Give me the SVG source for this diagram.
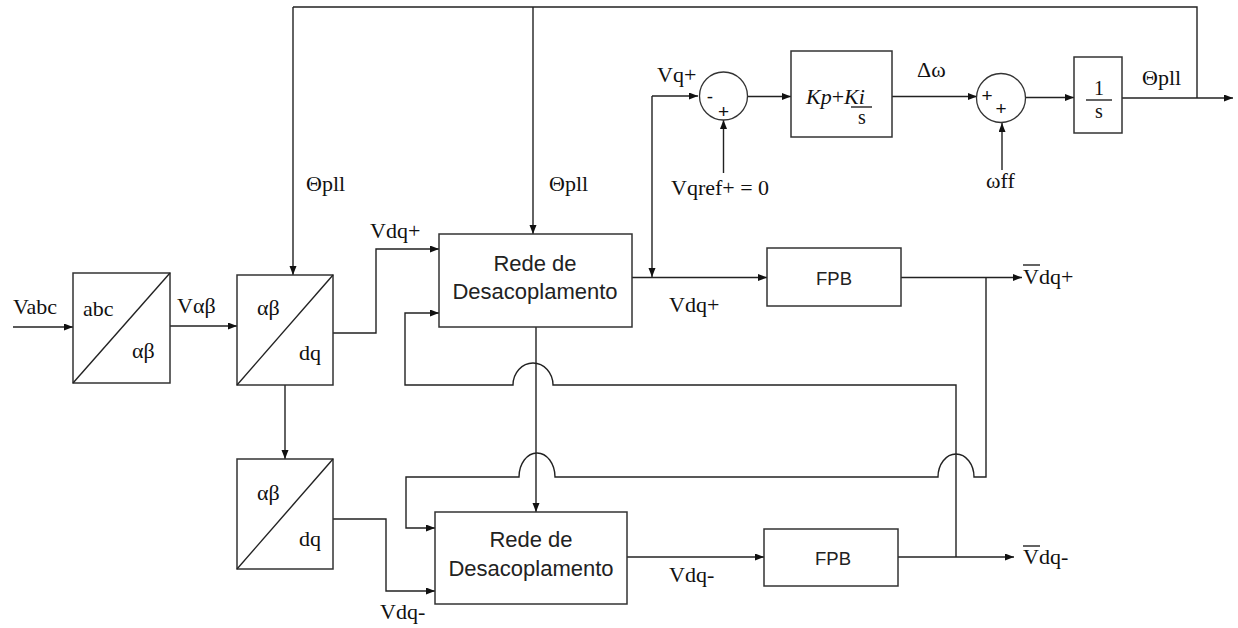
<svg xmlns="http://www.w3.org/2000/svg" width="1238" height="628" viewBox="0 0 1238 628">
<defs>
<marker id="arr" markerUnits="userSpaceOnUse" markerWidth="10" markerHeight="8" refX="9" refY="3.5" orient="auto">
<path d="M0,0 L9,3.5 L0,7 z" fill="#111"/>
</marker>
<style>
.blk{fill:#fff;stroke:#333;stroke-width:1.5}
.ln{fill:none;stroke:#222;stroke-width:1.4}
.ar{fill:none;stroke:#222;stroke-width:1.4;marker-end:url(#arr)}
.t{font-family:"Liberation Serif","Times New Roman",serif;font-size:22px;fill:#111}
.fr{font-family:"Liberation Serif","Times New Roman",serif;font-size:20px;fill:#111;text-anchor:middle}
.s{font-family:"Liberation Sans",Arial,sans-serif;font-size:22px;fill:#222;text-anchor:middle}
.f{font-family:"Liberation Sans",Arial,sans-serif;font-size:18.5px;fill:#222;text-anchor:middle}
.p{font-family:"Liberation Sans",Arial,sans-serif;font-size:19px;fill:#111;text-anchor:middle}
</style>
</defs>
<rect width="1238" height="628" fill="#fff"/>

<g id="connectors">
<line class="ar" x1="13" y1="327" x2="73" y2="327"/>
<line class="ar" x1="170" y1="326" x2="237" y2="326"/>
<polyline class="ln" points="293,7 1197,7 1197,98"/>
<line class="ar" x1="293" y1="7" x2="293" y2="275"/>
<line class="ar" x1="533" y1="7" x2="533" y2="234"/>
<polyline class="ar" points="333,333 376,333 376,249 439,249"/>
<line class="ar" x1="285" y1="385" x2="285" y2="459"/>
<polyline class="ar" points="333,519 386,519 386,591 435,591"/>
<line class="ar" x1="632" y1="277.5" x2="767" y2="277.5"/>
<line class="ar" x1="652" y1="96" x2="652" y2="277"/>
<line class="ar" x1="652" y1="96" x2="698" y2="96"/>
<line class="ar" x1="748" y1="96.5" x2="791" y2="96.5"/>
<line class="ar" x1="723.5" y1="173" x2="723.5" y2="120"/>
<line class="ar" x1="892" y1="96.5" x2="977" y2="96.5"/>
<line class="ar" x1="1002" y1="170" x2="1002" y2="123"/>
<line class="ar" x1="1026" y1="97.5" x2="1074" y2="97.5"/>
<line class="ar" x1="1122" y1="98" x2="1233" y2="98"/>
<line class="ar" x1="901" y1="277.5" x2="1022" y2="277.5"/>
<path class="ar" d="M986,277.5 V477 H974 A18 23 0 0 0 938 477 H555 A18 24 0 0 0 519 477 H406 V528 H435"/>
<path class="ar" d="M956,557 V385 H553 A20 22 0 0 0 513 385 H405 V313 H439"/>
<line class="ar" x1="536" y1="327" x2="536" y2="512"/>
<line class="ar" x1="627" y1="557" x2="764" y2="557"/>
<line class="ar" x1="898" y1="557" x2="1014" y2="557"/>
</g>

<g id="abc_ab">
<rect class="blk" x="73" y="273" width="97" height="110"/>
<line class="ln" x1="73" y1="383" x2="170" y2="273"/>
<text class="t" x="83" y="316">abc</text>
<text class="t" x="132" y="358">αβ</text>
</g>
<g id="ab_dq1">
<rect class="blk" x="237" y="275" width="96" height="110"/>
<line class="ln" x1="237" y1="385" x2="333" y2="275"/>
<text class="t" x="257" y="315">αβ</text>
<text class="t" x="299" y="360">dq</text>
</g>
<g id="ab_dq2">
<rect class="blk" x="237" y="459" width="96" height="110"/>
<line class="ln" x1="237" y1="569" x2="333" y2="459"/>
<text class="t" x="257" y="500">αβ</text>
<text class="t" x="299" y="546">dq</text>
</g>
<g id="rede1">
<rect class="blk" x="439" y="234" width="193" height="93"/>
<text class="s" x="535" y="271">Rede de</text>
<text class="s" x="535" y="299">Desacoplamento</text>
</g>
<g id="rede2">
<rect class="blk" x="435" y="512" width="192" height="92"/>
<text class="s" x="531" y="547">Rede de</text>
<text class="s" x="531" y="576">Desacoplamento</text>
</g>
<g id="fpb1">
<rect class="blk" x="767" y="248" width="134" height="58"/>
<text class="f" x="834" y="285">FPB</text>
</g>
<g id="fpb2">
<rect class="blk" x="764" y="529" width="134" height="57"/>
<text class="f" x="833" y="565">FPB</text>
</g>
<g id="sum1">
<circle cx="723.5" cy="96" r="24" fill="#fff" stroke="#333" stroke-width="1.3"/>
<text class="p" x="710" y="103">-</text>
<text class="p" x="723.5" y="118">+</text>
</g>
<g id="pi">
<rect class="blk" x="791" y="51" width="101" height="86"/>
<text class="t" x="806" y="104"><tspan font-style="italic">Kp</tspan>+<tspan font-style="italic">Ki</tspan></text>
<line class="ln" x1="851" y1="107" x2="872" y2="107"/>
<text class="fr" x="862" y="124">s</text>
</g>
<g id="sum2">
<circle cx="1001" cy="98" r="24.5" fill="#fff" stroke="#333" stroke-width="1.3"/>
<text class="p" x="987" y="102">+</text>
<text class="p" x="1001" y="115">+</text>
</g>
<g id="integ">
<rect class="blk" x="1074" y="57" width="48" height="76"/>
<text class="fr" x="1099" y="95">1</text>
<line class="ln" x1="1086" y1="100" x2="1112" y2="100"/>
<text class="fr" x="1099" y="118">s</text>
</g>

<g id="labels">
<text class="t" x="13" y="314">Vabc</text>
<text class="t" x="177" y="313">Vαβ</text>
<text class="t" x="306" y="191">Θpll</text>
<text class="t" x="549" y="191">Θpll</text>
<text class="t" x="370" y="238">Vdq+</text>
<text class="t" x="380" y="619">Vdq-</text>
<text class="t" x="669" y="312">Vdq+</text>
<text class="t" x="669" y="582">Vdq-</text>
<text class="t" x="657" y="82">Vq+</text>
<text class="t" x="671" y="195">Vqref+ = 0</text>
<text class="t" x="917" y="77">Δω</text>
<text class="t" x="986" y="188">ωff</text>
<text class="t" x="1142" y="85">Θpll</text>
<text class="t" x="1023" y="284">Vdq+</text>
<line class="ln" x1="1023" y1="265" x2="1040" y2="265"/>
<text class="t" x="1023" y="564">Vdq-</text>
<line class="ln" x1="1023" y1="546" x2="1040" y2="546"/>
</g>
</svg>
